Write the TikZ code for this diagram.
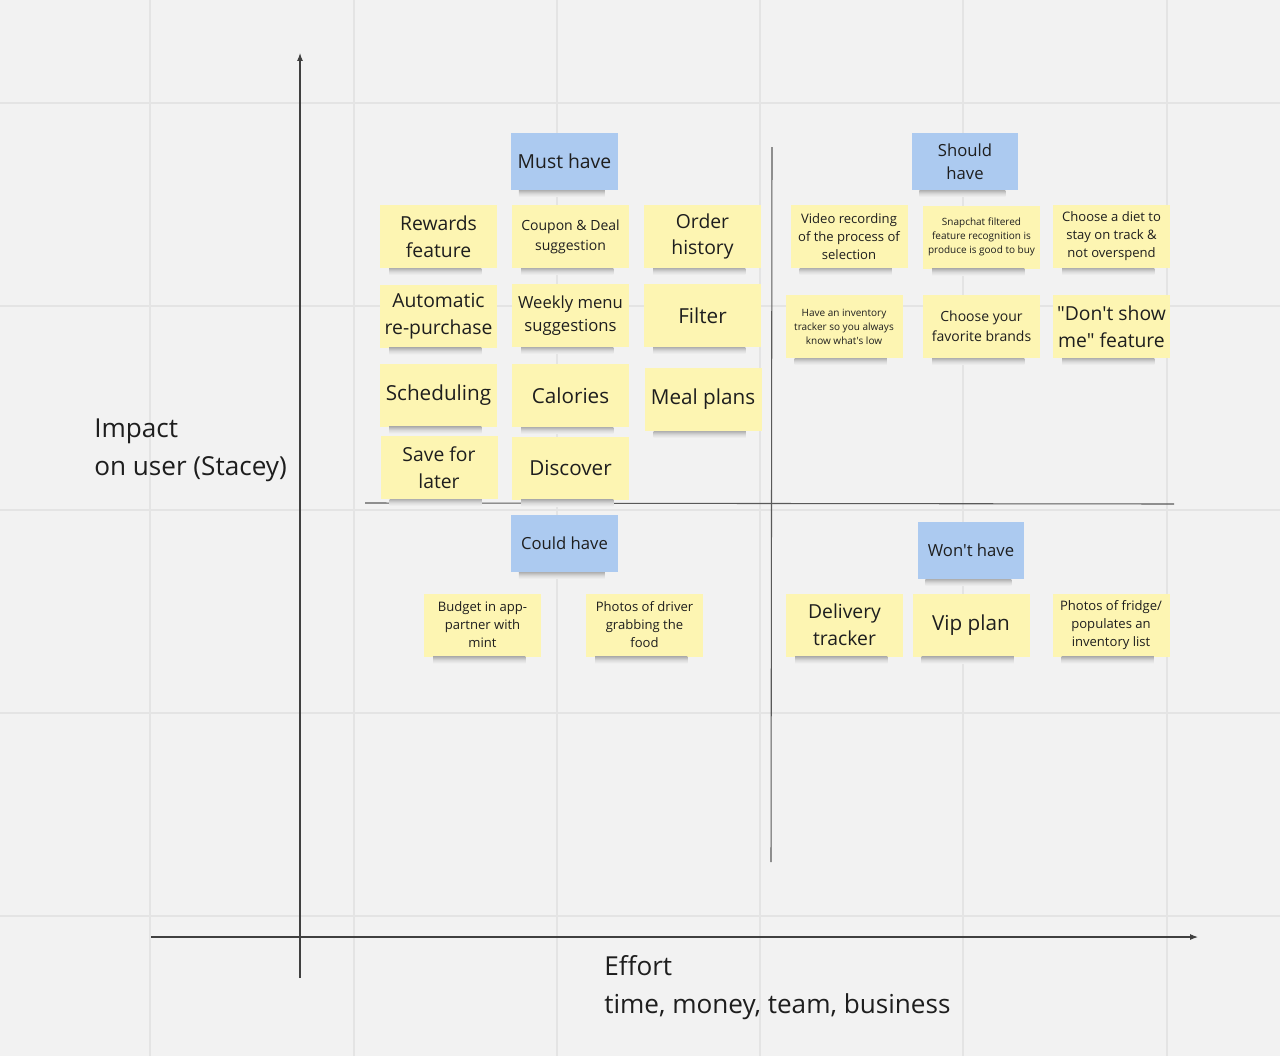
\documentclass[tikz,border=0pt]{standalone}
\usepackage{fontspec}
\setmainfont{Open Sans}[Ligatures=TeXOff]
\usepackage{tikz}
\usetikzlibrary{arrows.meta}
\definecolor{board}{RGB}{242,242,242}
\definecolor{gridline}{RGB}{228,228,228}
\definecolor{stickyyellow}{RGB}{253,245,178}
\definecolor{stickyblue}{RGB}{172,202,240}
\definecolor{ink}{RGB}{30,30,30}
\begin{document}
\begin{tikzpicture}[x=0.75pt,y=-0.75pt,
	note/.style={align=center,inner sep=1pt,text=ink,minimum width=87.75pt,minimum height=47.25pt,fill=stickyyellow},
	tag/.style={note,fill=stickyblue,minimum width=80pt,minimum height=42.75pt},
	notesh/.style={top color=black!30,bottom color=board,middle color=black!14},
	huge/.style={font=\fontsize{15.5}{21}\selectfont},
	big/.style={font=\fontsize{14.5}{20}\selectfont},
	mid/.style={font=\fontsize{12.5}{17.5}\selectfont},
	sml/.style={font=\fontsize{10.5}{15}\selectfont},
	tiny/.style={font=\fontsize{9.8}{13.5}\selectfont},
	micro/.style={font=\fontsize{7.5}{10.5}\selectfont},
	axis/.style={draw=black!75,line width=0.8pt,-{Latex[length=6pt,width=4.5pt]}},
	divider/.style={draw=black!65,line width=0.8pt},
	axislabel/.style={align=left,anchor=north west,inner sep=0pt,text=ink,font=\fontsize{19.6}{28.5}\selectfont}]
			\useasboundingbox (0,0) rectangle (1280,1056);
			\fill[board] (0,0) rectangle (1280,1056);
			% board grid
			\foreach \gx in {150,353.5,557,760,963,1167}
			{
			\draw[gridline,line width=1.5pt] (\gx,0) -- (\gx,1056);
			}
			\foreach \gy in {103,306,510,713,916}
			{
			\draw[gridline,line width=1.5pt] (0,\gy) -- (1280,\gy);
			}
			% axes and quadrants
			\coordinate (ybot) at (300,978);
			\coordinate (ytop) at (300,53);
			\coordinate (xleft) at (151,937);
			\coordinate (xright) at (1198,937);
			\draw[axis] (ybot) -- (ytop);
			\draw[axis] (xleft) -- (xright);
			\coordinate (vtop) at (772,147);
			\coordinate (vbot) at (771,862);
			\coordinate (hleft) at (365,503);
			\coordinate (hright) at (1174,504);
			\draw[divider] (vtop) -- (vbot);
			\draw[divider] (hleft) -- (hright);
			\node[axislabel] (impact) at (94,419) {Impact\\on user (Stacey)};
			\node[axislabel] (effort) at (604,955) {Effort\\time, money, team, business};
			% headers
			\foreach \nm/\px/\py/\sz/\txt in {must/564.5/161.5/big/{Must have},
				should/965/161.5/mid/{Should\\have},
				could/564.5/543.5/mid/{Could have},
				wont/971/550.5/mid/{Won't have}}
			{
			\node[tag,\sz] (\nm) at (\px,\py) {\txt};
			\shade[notesh] ([xshift=6pt]\nm.south west) rectangle ([xshift=-10pt,yshift=-5pt]\nm.south east);
			}
			% stickies
			\foreach \nm/\px/\py/\sz/\txt in {rewards/438.5/236.5/big/{Rewards\\feature},
				coupon/570.5/236.5/sml/{Coupon \& Deal\\suggestion},
				order/702.5/236.5/big/{Order\\history},
				autobuy/438.5/316/big/{Automatic\\re-purchase},
				weekly/570.5/315.5/mid/{Weekly menu\\suggestions},
				filter/702.5/315.5/huge/{Filter},
				schedule/438.5/395/huge/{Scheduling},
				calories/570.5/395.5/huge/{Calories},
				meals/703/399.5/huge/{Meal plans},
				later/439/467.5/big/{Save for\\later},
				discover/570.5/468/huge/{Discover},
				video/849/236.5/tiny/{Video recording\\of the process of\\selection},
				snap/981.5/237/micro/{Snapchat filtered\\feature recognition is\\produce is good to buy},
				diet/1111.5/236.5/tiny/{Choose a diet to\\stay on track \&\\not overspend},
				stock/844/326.5/micro/{Have an inventory\\tracker so you always\\know what's low},
				brands/981.5/326.5/sml/{Choose your\\favorite brands},
				hide/1111.5/326.5/big/{"Don't show\\me" feature},
				budget/482.5/625/tiny/{Budget in app-\\partner with\\mint},
				driver/644.5/625/tiny/{Photos of driver\\grabbing the\\food},
				delivery/844.5/625/big/{Delivery\\tracker},
				vip/971/625/huge/{Vip plan},
				fridge/1111/625/tiny/{Photos of fridge/\\populates an\\inventory list}}
			{
			\node[note,\sz] (\nm) at (\px,\py) {\txt};
			\shade[notesh] ([xshift=7pt]\nm.south west) rectangle ([xshift=-12pt,yshift=-5pt]\nm.south east);
			}
		\end{tikzpicture}
\end{document}
